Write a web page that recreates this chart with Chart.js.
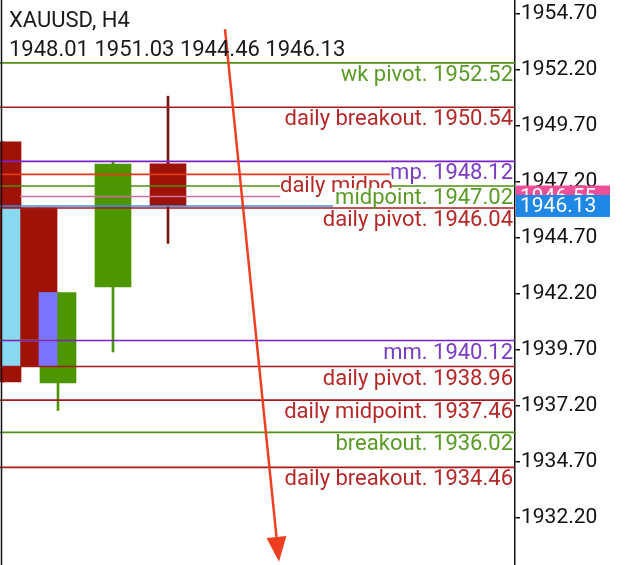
<!DOCTYPE html>
<html>
<head>
<meta charset="utf-8">
<script src="https://cdn.jsdelivr.net/npm/chart.js@4.4.0/dist/chart.umd.min.js"></script>
<style>
html, body { margin: 0; padding: 0; background: #fff; }
</style>
</head>
<body>
<canvas id="chart" width="625" height="565"></canvas>
<script>
var symbol = "XAUUSD, H4";
var lastBar = [1948.01, 1951.03, 1944.46, 1946.13]; // O H L C of the last bar
var askPrice = 1946.55;
var bidPrice = 1946.13;

// candles (x = bar slot)
var candleX = [0, 0.655, 1, 2, 3];
var candleOpen = [1948.99, 1946.04, 1938.23, 1942.51, 1948.01];
var candleClose = [1938.27, 1938.96, 1942.26, 1948.00, 1946.13];
var candleHigh = [1948.99, 1946.04, 1942.26, 1948.09, 1951.03];
var candleLow = [1938.27, 1938.96, 1937.00, 1939.61, 1944.46];

// rectangles drawn over the first bars
var boxX = [0.145, 0.818];
var boxLow = [1938.96, 1938.96];
var boxHigh = [1946.04, 1942.26];

// horizontal levels
var levelValue = [1952.52, 1950.54, 1948.12, 1947.54, 1947.02, 1946.55, 1946.13, 1946.04, 1940.12, 1940.12, 1938.96, 1937.46, 1936.02, 1934.46];
var levelLabel = ["wk pivot. 1952.52", "daily breakout. 1950.54", "mp. 1948.12", "daily midpoint. 1947.54", "midpoint. 1947.02", "", "", "daily pivot. 1946.04", "mm. 1940.12", "", "daily pivot. 1938.96", "daily midpoint. 1937.46", "breakout. 1936.02", "daily breakout. 1934.46"];
var levelFrom = [-1, -1, -1, -1, -1, 0.31, -1, -1, -1, -1, -1, -1, -1, -1];
var levelTo = [99, 99, 99, 7.07, 99, 5.04, 6.0, 99, 99, 0.98, 99, 99, 99, 99];
var levelKind = ["green", "red", "purple", "bright", "green", "pink", "blue", "red", "purple", "lime", "red", "red", "green", "red"];

// trend arrow
var arrowX = [4.036, 5.018];
var arrowY = [1954.03, 1930.24];

var yTicks = [1932.2, 1934.7, 1937.2, 1939.7, 1942.2, 1944.7, 1947.2, 1949.7, 1952.2, 1954.7];

var xMin = -0.0545, xMax = 9.309;
var yMin = 1930.10, yMax = 1955.325;

var lineColor = { green: "#4f8f10", red: "#a31a1a", purple: "#7a22c8", bright: "#e2381c", pink: "#cf6fa0", blue: "#3a8ee6", lime: "#a4c83c" };
var textColor = { green: "#5a9a26", red: "#b52828", purple: "#7a3cc4", bright: "#b52828" };
var bullColor = "#4e9600";
var bearColor = "#9e1208";
var boxColor = ["#88d8f2", "#7b72ff"];

function candleColor(i) {
  return candleClose[i] >= candleOpen[i] ? bullColor : bearColor;
}

var datasets = [];

levelValue.forEach(function (v, i) {
  datasets.push({
    type: 'line',
    data: [{ x: Math.max(levelFrom[i], xMin), y: v }, { x: Math.min(levelTo[i], xMax), y: v }],
    borderColor: lineColor[levelKind[i]],
    borderWidth: 1.6,
    pointRadius: 0,
    fill: false,
    order: 1
  });
});

datasets.push({
  type: 'bar',
  data: boxX.map(function (x, i) { return { x: x, y: [boxLow[i], boxHigh[i]] }; }),
  backgroundColor: boxColor,
  barThickness: 18,
  grouped: false,
  order: 2
});

datasets.push({
  type: 'bar',
  data: candleX.map(function (x, i) { return { x: x, y: [candleOpen[i], candleClose[i]] }; }),
  backgroundColor: candleX.map(function (x, i) { return candleColor(i); }),
  barThickness: 36,
  grouped: false,
  order: 3
});

datasets.push({
  type: 'bar',
  data: candleX.map(function (x, i) { return { x: x, y: [candleLow[i], candleHigh[i]] }; }),
  backgroundColor: candleX.map(function (x, i) { return candleClose[i] >= candleOpen[i] ? bullColor : "#7a1414"; }),
  barThickness: 2,
  grouped: false,
  order: 4
});

var overlay = {
  id: 'overlay',
  afterDatasetsDraw: function (chart) {
    var ctx = chart.ctx;
    var xs = chart.scales.x, ys = chart.scales.y, area = chart.chartArea;
    ctx.save();
    ctx.font = "22px Roboto";
    ctx.textBaseline = "alphabetic";
    levelValue.forEach(function (v, i) {
      if (!levelLabel[i]) return;
      var y = ys.getPixelForValue(v);
      var right = area.right - 2;
      var w = ctx.measureText(levelLabel[i]).width;
      var endPx = Math.min(xs.getPixelForValue(levelTo[i]), area.right);
      if (levelKind[i] == "bright") right = area.left + 280 + w;
      ctx.save();
      ctx.beginPath();
      ctx.rect(area.left, area.top, endPx - area.left, area.bottom - area.top);
      ctx.clip();
      ctx.fillStyle = "#fff";
      ctx.fillRect(right - w, y + 2, w, 19);
      ctx.fillStyle = textColor[levelKind[i]];
      ctx.textAlign = "left";
      ctx.fillText(levelLabel[i], right - w, y + 18);
      ctx.restore();
    });

    // arrow
    var x0 = xs.getPixelForValue(arrowX[0]), y0 = ys.getPixelForValue(arrowY[0]);
    var x1 = xs.getPixelForValue(arrowX[1]), y1 = ys.getPixelForValue(arrowY[1]);
    var ang = Math.atan2(y1 - y0, x1 - x0);
    var head = 25, half = 10;
    var bx = x1 - head * Math.cos(ang), by = y1 - head * Math.sin(ang);
    ctx.strokeStyle = "#ee3f22";
    ctx.fillStyle = "#ee3f22";
    ctx.lineWidth = 2.5;
    ctx.beginPath();
    ctx.moveTo(x0, y0);
    ctx.lineTo(bx, by);
    ctx.stroke();
    ctx.beginPath();
    ctx.moveTo(x1, y1);
    ctx.lineTo(bx + half * Math.sin(ang), by - half * Math.cos(ang));
    ctx.lineTo(bx - half * Math.sin(ang), by + half * Math.cos(ang));
    ctx.closePath();
    ctx.fill();

    // left frame
    ctx.strokeStyle = "#111";
    ctx.lineWidth = 1.5;
    ctx.beginPath();
    ctx.moveTo(area.left + 1.5, area.top);
    ctx.lineTo(area.left + 1.5, area.bottom);
    ctx.stroke();
    ctx.restore();
  },
  afterDraw: function (chart) {
    var ctx = chart.ctx;
    var ys = chart.scales.y, area = chart.chartArea;
    ctx.save();
    ctx.font = "21px Roboto";
    ctx.textBaseline = "middle";
    ctx.textAlign = "left";
    [[askPrice, "#ef4f98"], [bidPrice, "#1f88e6"]].forEach(function (p) {
      var y = ys.getPixelForValue(p[0]);
      ctx.fillStyle = p[1];
      ctx.fillRect(area.right + 1, y - 11, 94, 22);
      ctx.fillStyle = "#fff";
      ctx.fillText(p[0].toFixed(2), area.right + 5, y + 1);
    });
    ctx.font = "22px Roboto";
    ctx.fillStyle = "#1a1a1a";
    ctx.textBaseline = "alphabetic";
    ctx.fillText(symbol, 9, 27);
    ctx.fillText(lastBar.map(function (v) { return v.toFixed(2); }).join(" "), 9, 56);
    ctx.restore();
  }
};

new Chart(document.getElementById("chart"), {
  type: 'bar',
  data: { datasets: datasets },
  options: {
    responsive: false,
    animation: false,
    devicePixelRatio: 1,
    layout: { padding: 0 },
    plugins: { legend: { display: false }, tooltip: { enabled: false } },
    scales: {
      x: {
        type: 'linear',
        display: false,
        offset: false,
        min: xMin,
        max: xMax
      },
      y: {
        position: 'right',
        min: yMin,
        max: yMax,
        afterBuildTicks: function (scale) {
          scale.ticks = yTicks.map(function (v) { return { value: v }; });
        },
        afterFit: function (scale) {
          scale.width = 110;
          scale.paddingTop = 0;
          scale.paddingBottom = 0;
        },
        ticks: {
          color: "#111",
          font: { family: "Roboto", size: 21 },
          padding: 1,
          callback: function (v) { return Number(v).toFixed(2); }
        },
        grid: { drawOnChartArea: false, drawTicks: true, tickLength: 5, color: "#111", lineWidth: 1.5 },
        border: { display: true, color: "#111", width: 1.5 }
      }
    }
  },
  plugins: [overlay]
});
</script>
</body>
</html>
